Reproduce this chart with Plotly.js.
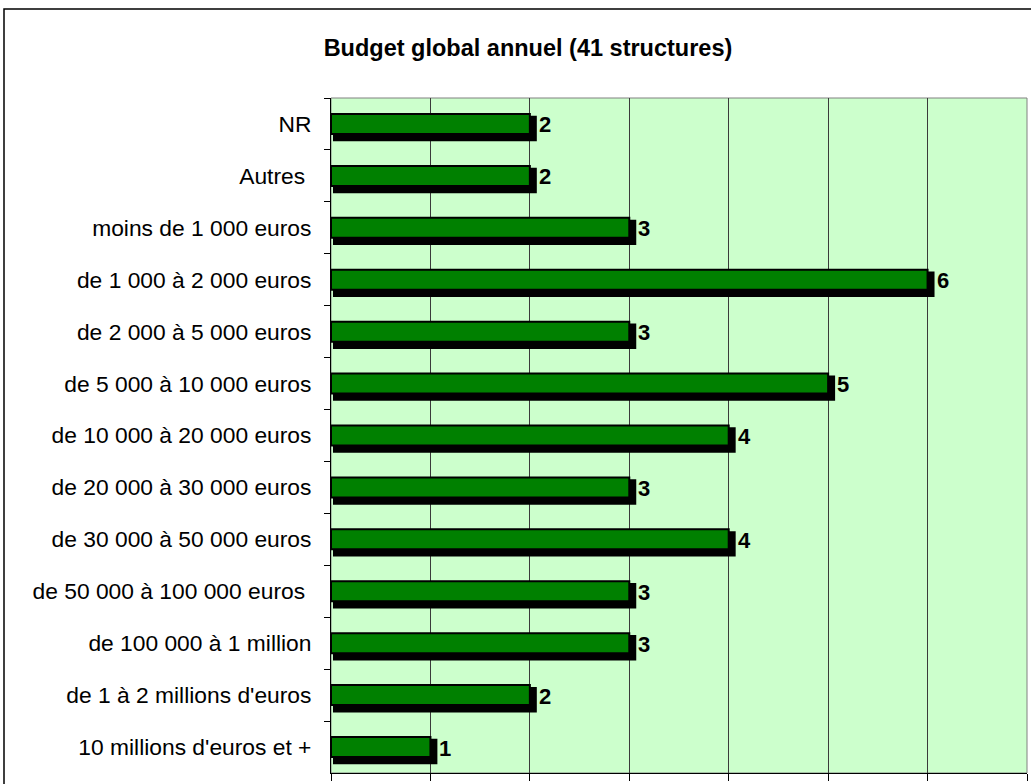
<!DOCTYPE html>
<html>
<head>
<meta charset="utf-8">
<script src="https://cdn.plot.ly/plotly-3.0.1.min.js"></script>
<style>html,body{margin:0;padding:0;background:#fff;}#chart{width:1031px;height:784px;}</style>
</head>
<body>
<div id="chart"></div>
<script>
const categories = [
  "NR",
  "Autres\u00a0",
  "moins de 1 000 euros",
  "de 1 000 à 2 000 euros",
  "de 2 000 à 5 000 euros",
  "de 5 000 à 10 000 euros",
  "de 10 000 à 20 000 euros",
  "de 20 000 à 30 000 euros",
  "de 30 000 à 50 000 euros",
  "de 50 000 à 100 000 euros\u00a0",
  "de 100 000 à 1 million",
  "de 1 à 2 millions d'euros",
  "10 millions d'euros et +"
];
const counts = [2, 2, 3, 6, 3, 5, 4, 3, 4, 3, 3, 2, 1];
const titleText = "Budget global annuel (41 structures)";

const FONT = "Liberation Sans, Arial, sans-serif";
const W = 0.385;       // bar thickness (category units)
const SW = 0.49;       // shadow thickness
const shadow = {
  type: "bar", orientation: "h",
  y: categories, x: counts.map(v => v + 0.05), base: 0.02,
  width: SW, offset: -W / 2 + 0.035,
  marker: {color: "#000000", line: {width: 0}},
  hoverinfo: "skip", showlegend: false
};
const bars = {
  type: "bar", orientation: "h",
  y: categories, x: counts,
  width: W, offset: -W / 2,
  marker: {color: "#008000", line: {color: "#000000", width: 2}},
  showlegend: false
};

const annotations = counts.map((v, i) => ({
  x: v, y: categories[i], xref: "x", yref: "y",
  text: "<b>" + v + "</b>", showarrow: false,
  xanchor: "left", yanchor: "middle", xshift: 7, yshift: -1,
  font: {family: FONT, size: 22, color: "#000"}
}));

const layout = {
  width: 1031, height: 784,
  margin: {l: 331, r: 4, t: 98, b: 11},
  paper_bgcolor: "#ffffff",
  plot_bgcolor: "#CCFFCC",
  barmode: "overlay",
  font: {family: FONT, size: 16, color: "#000"},
  title: {
    text: "<b>" + titleText + "</b>",
    font: {family: FONT, size: 23.5, color: "#000"},
    xref: "container", yref: "container", x: 528 / 1031, y: 1 - 48 / 784,
    xanchor: "center", yanchor: "middle"
  },
  xaxis: {
    range: [0, 7], dtick: 1, tick0: 0,
    showgrid: true, gridcolor: "#3a3a3a", gridwidth: 1,
    zeroline: false,
    showline: true, linecolor: "#000", linewidth: 1,
    ticks: "outside", ticklen: 7, tickcolor: "#000",
    showticklabels: false, fixedrange: true
  },
  yaxis: {
    type: "category", autorange: "reversed",
    showgrid: false, zeroline: false,
    showline: true, linecolor: "#000", linewidth: 1,
    ticks: "outside", tickson: "boundaries", ticklen: 6, tickcolor: "#000",
    ticklabelstandoff: 14,
    tickfont: {family: FONT, size: 22.8, color: "#000"},
    fixedrange: true
  },
  shapes: [
    {type: "rect", xref: "paper", yref: "paper", x0: 0, x1: 1, y0: 0, y1: 1,
     line: {color: "#808080", width: 1}, fillcolor: "rgba(0,0,0,0)", layer: "below"},
    {type: "rect", xref: "paper", yref: "paper",
     x0: (4 - 331) / 696, x1: 1.05, y0: -0.1, y1: (773 - 9) / 675,
     line: {color: "#000", width: 1.5}, fillcolor: "rgba(0,0,0,0)"}
  ],
  annotations: annotations
};

Plotly.newPlot("chart", [shadow, bars], layout, {displayModeBar: false, staticPlot: true});
</script>
</body>
</html>
